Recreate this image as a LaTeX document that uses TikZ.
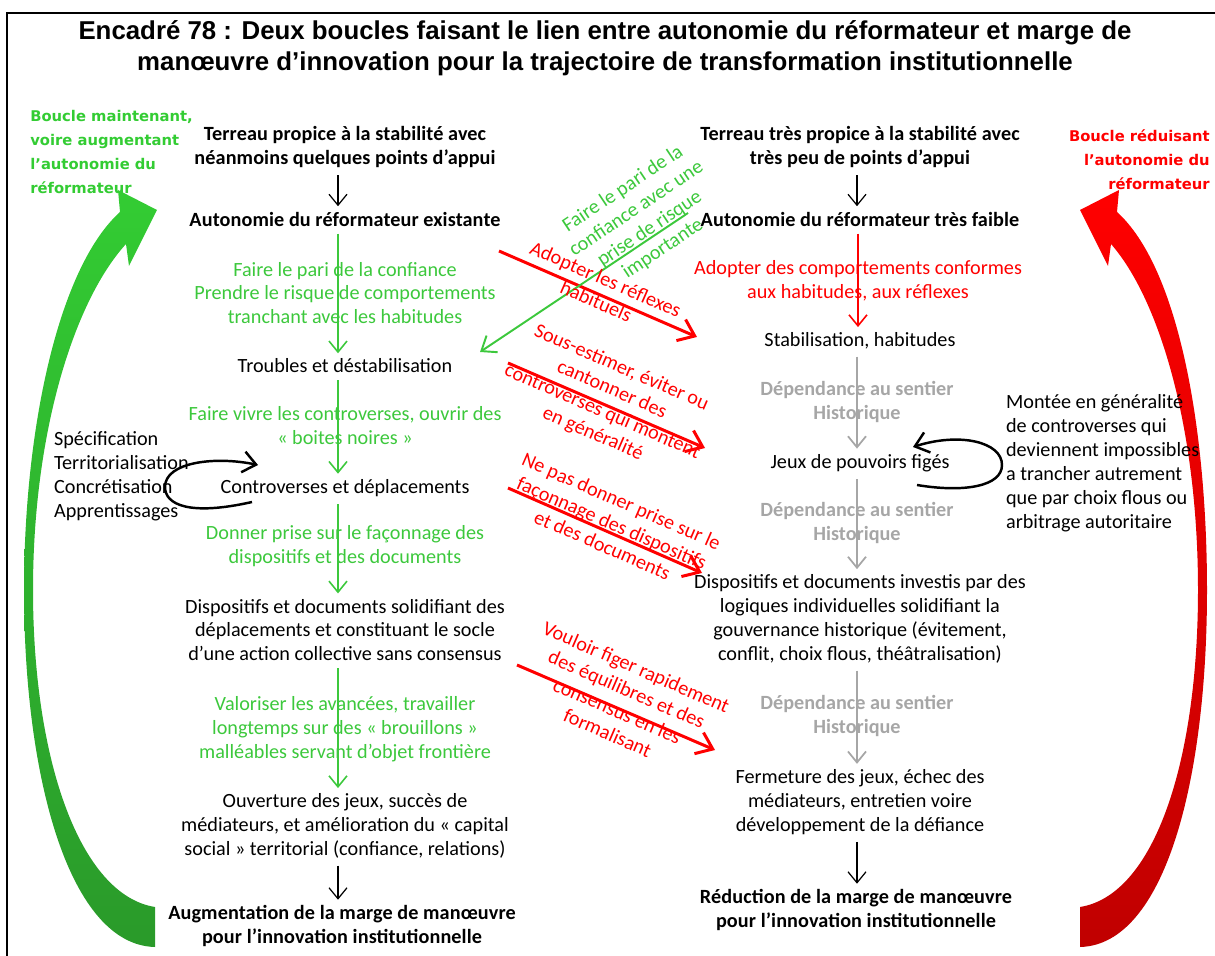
\documentclass[tikz,border=0pt]{standalone}
\usepackage{fontspec}
\setmainfont{Carlito}
\newfontfamily\titlefont{Liberation Sans}
\newfontfamily\loopfont{DejaVu Sans}
\usetikzlibrary{arrows.meta,positioning,calc}

\definecolor{lgreen}{HTML}{3CC83C}
\definecolor{bgreen}{HTML}{33CC33}
\definecolor{dgreen}{HTML}{2A9A2A}
\definecolor{lred}{HTML}{FF0000}
\definecolor{dred}{HTML}{C00000}
\definecolor{pathgray}{HTML}{A6A6A6}
\newcommand\bodysize{\fontsize{11.5}{13.6}\selectfont}
\newcommand\headfont{\bfseries\addfontfeature{LetterSpace=0.5}}

\begin{document}
\begin{tikzpicture}[x=0.02cm, y=-0.02cm,
    txt/.style={align=center, font=\bodysize, inner sep=1pt},
    hd/.style={txt, font=\bodysize\headfont},
    gtxt/.style={txt, text=lgreen},
    rtxt/.style={txt, text=lred},
    grtxt/.style={txt, font=\bodysize\bfseries, text=pathgray},
    looplbl/.style={font=\loopfont\bfseries\fontsize{8.4}{13.6}\selectfont, inner sep=0pt},
    blk/.style={-{Straight Barb[length=2.2mm,width=3.6mm]}, line width=0.7pt, shorten <=3pt, shorten >=2pt},
    garr/.style={blk, draw=lgreen, line width=0.9pt},
    rarr/.style={blk, draw=lred, line width=0.9pt},
    grarr/.style={blk, draw=pathgray, line width=1pt},
    rdiag/.style={-{Straight Barb[length=3mm,width=4.6mm]}, draw=lred, line width=1.7pt},
    gdiag/.style={-{Straight Barb[length=2.6mm,width=4mm]}, draw=lgreen, line width=1.1pt},
    cycle/.style={-{Straight Barb[length=2.6mm,width=4.2mm]}, line width=1.4pt}
]
    \useasboundingbox (0,0) rectangle (1215,956);
    \draw[line width=1.2pt] (7,956) -- (7,13) -- (1215,13);

    % titre
    \node[align=center, font=\titlefont\bfseries\fontsize{14.7}{17.6}\selectfont] (title) at (605,48)
        {Encadré 78 : Deux boucles faisant le lien entre autonomie du réformateur et marge de\\
         manœuvre d’innovation pour la trajectoire de transformation institutionnelle};

    % grandes boucles
    \shade[top color=bgreen, bottom color=dgreen]
        (155,907) .. controls (80,895) and (33,760) .. (33,590)
        .. controls (33,430) and (75,300) .. (126,244)
        -- (129,266) -- (157,210) -- (118,190) -- (120,212)
        .. controls (58,268) and (24,430) .. (24,590)
        .. controls (24,780) and (70,945) .. (155,947) -- cycle;
    \shade[top color=lred, bottom color=dred]
        (1080,907) .. controls (1155,895) and (1198,760) .. (1198,590)
        .. controls (1198,430) and (1160,300) .. (1111,244)
        -- (1108,266) -- (1080,210) -- (1119,190) -- (1117,212)
        .. controls (1179,268) and (1207,430) .. (1207,590)
        .. controls (1207,780) and (1165,945) .. (1080,947) -- cycle;
    \node[looplbl, text=bgreen, align=left, anchor=west] (gloop) at (30,152)
        {Boucle maintenant,\\voire augmentant\\l’autonomie du\\réformateur};
    \node[looplbl, text=lred, align=right, anchor=east] (rloop) at (1210,160)
        {Boucle réduisant\\l’autonomie du\\réformateur};

    % colonne gauche
    \node[hd] (terL) at (345,147) {Terreau propice à la stabilité avec\\néanmoins quelques points d’appui};
    \node[hd] (autL) at (345,219) {Autonomie du réformateur existante};
    \node[txt] (trbL) at (345,366) {Troubles et déstabilisation};
    \node[txt] (ctrL) at (345,488) {Controverses et déplacements};
    \node[txt] (dspL) at (345,630) {Dispositifs et documents solidifiant des\\déplacements et constituant le socle\\d’une action collective sans consensus};
    \node[txt] (ouvL) at (345,826) {Ouverture des jeux, succès de\\médiateurs, et amélioration du « capital\\social » territorial (confiance, relations)};
    \node[hd] (augL) at (342,926) {Augmentation de la marge de manœuvre\\pour l’innovation institutionnelle};

    \node[gtxt] (g1) at (345,293) {Faire le pari de la confiance\\Prendre le risque de comportements\\tranchant avec les habitudes};
    \node[gtxt] (g2) at (345,426) {Faire vivre les controverses, ouvrir des\\« boites noires »};
    \node[gtxt] (g3) at (345,546) {Donner prise sur le façonnage des\\dispositifs et des documents};
    \node[gtxt] (g4) at (345,729) {Valoriser les avancées, travailler\\longtemps sur des « brouillons »\\malléables servant d’objet frontière};

    \draw[blk] (terL.south -| 338,0) -- (autL.north -| 338,0);
    \draw[garr] (autL.south -| 338,0) -- (trbL.north -| 338,0);
    \draw[garr] (trbL.south -| 338,0) -- (ctrL.north -| 338,0);
    \draw[garr] (ctrL.south -| 338,0) -- (dspL.north -| 338,0);
    \draw[garr] (dspL.south -| 338,0) -- (ouvL.north -| 338,0);
    \draw[blk] (ouvL.south -| 338,0) -- (augL.north -| 338,0);

    \node[txt, align=left, anchor=west] (specs) at (52,476) {Spécification\\Territorialisation\\Concrétisation\\Apprentissages};
    \coordinate (lpA) at (252,502);
    \coordinate (lpB) at (258,465);
    \draw[cycle] (lpA) .. controls (190,516) and (165,505) .. (165,487)
        .. controls (165,462) and (215,456) .. (lpB);

    % colonne droite
    \node[hd] (terR) at (860,147) {Terreau très propice à la stabilité avec\\très peu de points d’appui};
    \node[hd] (autR) at (860,219) {Autonomie du réformateur très faible};
    \node[txt] (stbR) at (860,341) {Stabilisation, habitudes};
    \node[txt] (jeuR) at (860,463) {Jeux de pouvoirs figés};
    \node[txt] (dspR) at (860,619) {Dispositifs et documents investis par des\\logiques individuelles solidifiant la\\gouvernance historique (évitement,\\conflit, choix flous, théâtralisation)};
    \node[txt] (ferR) at (860,802) {Fermeture des jeux, échec des\\médiateurs, entretien voire\\développement de la défiance};
    \node[hd] (redR) at (856,910) {Réduction de la marge de manœuvre\\pour l’innovation institutionnelle};

    \node[rtxt] (r0) at (858,281) {Adopter des comportements conformes\\aux habitudes, aux réflexes};
    \node[grtxt] (d1) at (857,402) {Dépendance au sentier\\Historique};
    \node[grtxt] (d2) at (857,523) {Dépendance au sentier\\Historique};
    \node[grtxt] (d3) at (857,716) {Dépendance au sentier\\Historique};

    \draw[blk] (terR.south -| 857,0) -- (autR.north -| 857,0);
    \draw[rarr] (autR.south -| 858,0) -- (stbR.north -| 858,0);
    \draw[grarr] (stbR.south -| 857,0) -- (jeuR.north -| 857,0);
    \draw[grarr] (jeuR.south -| 857,0) -- (dspR.north -| 857,0);
    \draw[grarr] (dspR.south -| 857,0) -- (ferR.north -| 857,0);
    \draw[blk] (ferR.south -| 857,0) -- (redR.north -| 857,0);

    \node[txt, align=left, anchor=west] (monte) at (1004,463) {Montée en généralité\\de controverses qui\\deviennent impossibles\\a trancher autrement\\que par choix flous ou\\arbitrage autoritaire};
    \coordinate (lpC) at (917,485);
    \coordinate (lpD) at (913,447);
    \draw[cycle] (lpC) .. controls (965,493) and (1002,486) .. (1002,465)
        .. controls (1002,442) and (960,432) .. (lpD);

    % passages d'une trajectoire a l'autre
    \coordinate (a1) at (499,251);  \coordinate (b1) at (697,337);
    \coordinate (a2) at (508,363);  \coordinate (b2) at (705,448);
    \coordinate (a3) at (508,488);  \coordinate (b3) at (702,573);
    \coordinate (a4) at (517,665);  \coordinate (b4) at (715,750);
    \coordinate (a5) at (688,213);  \coordinate (b5) at (480,352);
    \draw[rdiag] (a1) -- (b1);
    \draw[rdiag] (a2) -- (b2);
    \draw[rdiag] (a3) -- (b3);
    \draw[rdiag] (a4) -- (b4);
    \draw[gdiag] (a5) -- (b5);

    \node[rtxt, rotate=-23.5] (x1) at (601,290) {Adopter les réflexes\\habituels};
    \node[rtxt, rotate=-23.5] (x2) at (607,401) {Sous-estimer, éviter ou\\cantonner des\\controverses qui montent\\en généralité};
    \node[rtxt, rotate=-23.5] (x3) at (612,523) {Ne pas donner prise sur le\\façonnage des dispositifs\\et des documents};
    \node[rtxt, rotate=-23.5] (x4) at (622,700) {Vouloir figer rapidement\\des équilibres et des\\consensus en les\\formalisant};
    \node[gtxt, rotate=33.7] (x5) at (643,219) {Faire le pari de la\\confiance avec une\\prise de risque\\importante};
\end{tikzpicture}
\end{document}
